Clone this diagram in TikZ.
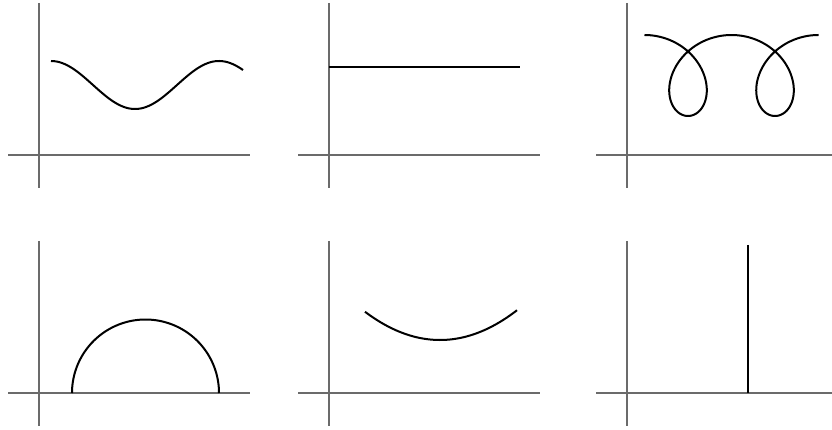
\documentclass[tikz,border=0pt]{standalone}
\usepackage{tikz}
\tikzset{
  ax/.style={draw=black!58,line width=1.2pt},
  crv/.style={draw=black,line width=2pt},
}
\begin{document}
\begin{tikzpicture}[x=1pt,y=-1pt]
  \useasboundingbox (0,0) rectangle (832,430);
  \foreach \ox/\oy in {39/155,329/155,627/155,39/393,329/393,627/393}{
    \draw[ax] (\ox-31,\oy) -- (\ox+211,\oy);
    \draw[ax] (\ox,\oy-152) -- (\ox,\oy+33);
  }
  \draw[crv] plot[domain=51:243,samples=90,smooth] (\x,{85-24*cos(2.142857*(\x-51))});
  \draw[crv] (329,67) -- (520,67);
  \draw[crv] plot[domain=-180:540,samples=240,smooth,variable=\t] ({688+0.241728*\t-38*sin(\t)},{75.5+40.5*cos(\t)});
  \draw[crv] plot[domain=0:180,samples=80,smooth] ({145.5-73.5*cos(\x)},{393-73.5*sin(\x)});
  \draw[crv] plot[domain=365:517,samples=60,smooth] (\x,{340-29*((\x-440)/76)^2});
  \draw[crv] (748,245) -- (748,393);
\end{tikzpicture}
\end{document}
